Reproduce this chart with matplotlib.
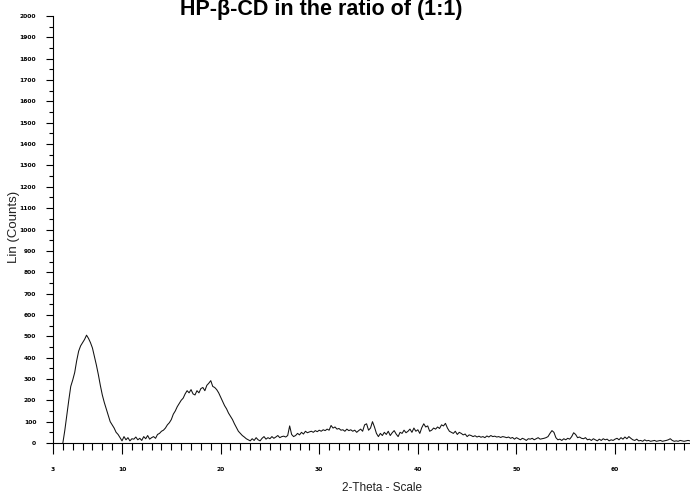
import numpy as np
import matplotlib
matplotlib.use('Agg')
import matplotlib.pyplot as plt
from matplotlib.ticker import MultipleLocator, FixedLocator

# counts, one value every 0.2 deg starting at 4.0 deg 2-theta
counts_a = [0, 60, 130, 200, 265, 295, 330, 385, 430, 455, 470, 485, 505, 490, 470, 445,
            405, 365, 320, 270, 225, 190, 160, 130, 100, 85, 70, 50, 40, 25, 10]          # 4.0 - 10.0
counts_b = [30, 15, 25, 10, 20, 18, 28, 15, 22, 12, 30, 20, 35, 18, 25, 30, 22, 40, 45, 55]  # 10.2 - 14.0
counts_c = [60, 70, 85, 95, 110, 135, 150, 170, 185, 200, 210, 230, 245, 235, 250, 230, 225,
            245, 235, 255, 260, 245, 270, 280, 292, 265, 260, 250, 235, 215, 195, 175, 160,
            140, 125, 110, 90, 72, 55, 45, 35, 28, 20, 15, 10]                             # 14.2 - 23.0
counts_d = [20, 12, 25, 15, 10, 22, 30, 18, 25, 20, 30, 22, 28, 35, 25, 30, 32, 28, 35, 80,
            40, 30, 35, 45, 38, 50, 42, 55, 48, 52]                                        # 23.2 - 29.0
counts_e = [55, 50, 58, 53, 60, 55, 62, 58, 65, 60, 82, 70, 75, 65, 68, 60, 62, 55, 65, 58,
            62, 55, 60, 50, 58, 65, 55, 85, 90, 60, 70, 100, 75, 45, 30, 45, 35]           # 29.2 - 36.4
counts_f = [50, 40, 55, 35, 48, 58, 42, 30, 50, 45, 60, 48, 55, 65, 50, 70, 55, 62, 45, 72,
            90, 75, 80, 55, 60, 70, 65, 75, 68, 85, 80, 92, 70, 55, 50, 45, 55, 40, 50, 45,
            38, 42, 30]                                                                    # 36.6 - 45.0
counts_g = [38, 35, 30, 34, 28, 32, 27, 30, 25, 33, 28, 35, 30, 32, 28, 30, 26, 30, 28, 25,
            28, 22, 26, 18, 25, 20, 15, 22, 18, 12, 20, 18, 22, 15, 20, 25, 18, 20, 22, 25]  # 45.2 - 53.0
counts_h = [30, 45, 58, 50, 25, 15, 18, 12, 20, 15, 22, 18, 30, 48, 40, 25, 28, 22, 20, 25,
            15, 18, 12, 20, 15, 10, 18, 12, 20, 15, 18, 10, 15, 12, 18]                    # 53.2 - 60.0
counts_i = [22, 15, 25, 18, 28, 20, 30, 22, 15, 12, 18, 10, 12, 8, 15, 10, 12, 8, 10, 12,
            8, 10, 12, 8, 10, 12, 15, 20, 12, 8, 10, 8, 12, 10, 8, 10, 12, 10]             # 60.2 - 67.6

counts = np.array(counts_a + counts_b + counts_c + counts_d + counts_e +
                  counts_f + counts_g + counts_h + counts_i, dtype=float)
two_theta = 4.0 + 0.2 * np.arange(len(counts))

x_labels = [3, 10, 20, 30, 40, 50, 60]
y_ticks = list(range(0, 2001, 100))

fig = plt.figure(figsize=(6.9, 4.96), dpi=100)
ax = fig.add_axes([53/690, 1 - 443/496, 1 - 53/690, (443 - 16)/496])

ax.plot(two_theta, counts, color='#111111', lw=0.75)

ax.set_xlim(3, 67.6)
ax.set_ylim(0, 2000)
ax.spines['top'].set_visible(False)
ax.spines['right'].set_visible(False)

ax.xaxis.set_major_locator(FixedLocator(x_labels))
ax.xaxis.set_minor_locator(MultipleLocator(1))
ax.yaxis.set_major_locator(FixedLocator(y_ticks))
ax.yaxis.set_minor_locator(MultipleLocator(50))
ax.tick_params(axis='x', which='major', length=8, width=0.8, pad=9, labelsize=4.3)
ax.tick_params(axis='x', which='minor', length=5, width=0.8)
ax.tick_params(axis='y', which='major', length=5, width=0.8, pad=7, labelsize=4.3)
ax.tick_params(axis='y', which='minor', length=3, width=0.8)
for lab in ax.get_xticklabels() + ax.get_yticklabels():
    lab.set_fontweight('bold')

fig.text(14/690, 1 - 227/496, 'Lin (Counts)', rotation=90, ha='center', va='center',
         fontsize=9.5, family='Liberation Sans', color='#222222')
fig.text(382/690, 1 - 488/496, '2-Theta - Scale', ha='center', va='center',
         fontsize=8.5, family='Liberation Sans', color='#222222')
# title sits partly above the top edge, as in the scan
fig.text(321/690, 1 - 15/496, 'HP-β-CD in the ratio of (1:1)', ha='center', va='baseline',
         fontsize=15.5, fontweight='bold', family='Liberation Sans')

fig.savefig('out.png', dpi=100)
